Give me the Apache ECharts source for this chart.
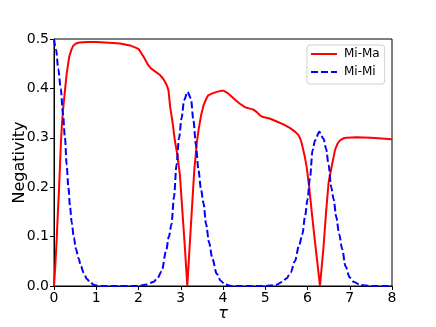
<!DOCTYPE html>
<html>
<head>
<meta charset="utf-8">
<script src="https://cdn.jsdelivr.net/npm/echarts@6/dist/echarts.min.js"></script>
<style>html,body{margin:0;padding:0;background:#fff}#c{width:436px;height:327px}</style>
</head>
<body>
<div id="c"></div>
<script>
var xTicks = [0,1,2,3,4,5,6,7,8];
var yTicks = [0.0,0.1,0.2,0.3,0.4,0.5];
var seriesNames = ['Mi-Ma','Mi-Mi'];

var tauMa = [0,0.03,0.063,0.09,0.118,0.14,0.166,0.19,0.22,0.26,0.3,0.36,0.41,0.46,0.52,0.6,0.8,1.0,1.2,1.4,1.56,1.8,2.0,2.06,2.12,2.18,2.23,2.3,2.4,2.51,2.58,2.63,2.68,2.71,2.75,2.81,2.86,2.92,2.98,3.04,3.1,3.155,3.2,3.26,3.32,3.38,3.42,3.48,3.54,3.6,3.65,3.75,3.85,3.95,4.02,4.1,4.17,4.3,4.4,4.52,4.64,4.72,4.8,4.88,4.95,5.1,5.19,5.3,5.43,5.58,5.71,5.78,5.82,5.86,5.9,5.94,5.98,6.04,6.1,6.17,6.23,6.295,6.38,6.44,6.5,6.57,6.65,6.71,6.77,6.85,6.93,7.16,7.5,8.0];
var negMa = [0,0.04,0.093,0.145,0.194,0.24,0.295,0.33,0.362,0.396,0.43,0.464,0.478,0.487,0.491,0.493,0.494,0.494,0.493,0.492,0.491,0.487,0.48,0.472,0.464,0.455,0.447,0.44,0.434,0.427,0.42,0.413,0.404,0.396,0.362,0.329,0.295,0.265,0.225,0.15,0.075,0.0,0.065,0.15,0.234,0.29,0.315,0.345,0.366,0.378,0.386,0.39,0.393,0.395,0.395,0.391,0.386,0.376,0.369,0.362,0.359,0.357,0.352,0.345,0.342,0.339,0.336,0.332,0.327,0.32,0.312,0.306,0.3,0.29,0.275,0.26,0.241,0.2,0.15,0.095,0.05,0.0,0.08,0.15,0.21,0.241,0.275,0.288,0.295,0.299,0.3,0.301,0.3,0.297];

var tauMi = [0,0.05,0.1,0.16,0.21,0.26,0.3,0.34,0.38,0.42,0.47,0.52,0.58,0.64,0.7,0.78,0.86,0.95,1.05,1.5,2.0,2.2,2.35,2.45,2.55,2.65,2.72,2.78,2.84,2.9,2.96,3.02,3.08,3.16,3.24,3.3,3.36,3.42,3.48,3.54,3.6,3.67,3.75,3.85,3.95,4.05,4.2,5.0,5.25,5.4,5.5,5.6,5.7,5.8,5.88,5.94,6.0,6.06,6.12,6.18,6.28,6.38,6.44,6.5,6.56,6.62,6.68,6.75,6.82,6.9,7.0,7.1,7.25,7.5,8.0];
var negMi = [0.5,0.478,0.44,0.4,0.35,0.3,0.245,0.2,0.16,0.128,0.098,0.075,0.056,0.04,0.027,0.014,0.007,0.002,0.0,0.0,0.0,0.003,0.008,0.016,0.03,0.07,0.1,0.125,0.18,0.245,0.3,0.34,0.376,0.393,0.38,0.335,0.285,0.234,0.195,0.167,0.125,0.088,0.055,0.025,0.01,0.003,0.0,0.0,0.002,0.008,0.015,0.027,0.05,0.082,0.105,0.14,0.175,0.22,0.275,0.295,0.312,0.298,0.278,0.245,0.2,0.175,0.14,0.105,0.075,0.04,0.017,0.008,0.002,0.0,0.0];

function zip(a, b) { return a.map(function (v, i) { return [v, b[i]]; }); }

var font = 'DejaVu Sans';
var chart = echarts.init(document.getElementById('c'), null, {renderer: 'canvas'});
chart.setOption({
  animation: false,
  backgroundColor: '#fff',
  grid: {left: 54, right: 44, top: 39, bottom: 41, containLabel: false, outerBoundsMode: 'none',
         show: true, borderColor: '#000', borderWidth: 1, backgroundColor: 'transparent'},
  legend: {
    orient: 'vertical', left: 307, top: 45,
    data: seriesNames,
    itemWidth: 26, itemHeight: 12, itemGap: 6,
    padding: [3, 5, 6, 3],
    itemStyle: {opacity: 0},
    backgroundColor: 'rgba(255,255,255,0.8)', borderColor: '#d0d0d0', borderWidth: 1, borderRadius: 3,
    textStyle: {fontFamily: font, fontSize: 12, color: '#000', padding: [0, 0, 0, 2]}
  },
  xAxis: {
    type: 'value', min: xTicks[0], max: xTicks[xTicks.length - 1], interval: 1,
    name: 'τ', nameLocation: 'middle', nameGap: 20, nameMoveOverlap: false,
    nameTextStyle: {fontFamily: font, fontSize: 16, fontStyle: 'italic', color: '#000'},
    axisLine: {lineStyle: {color: '#000', width: 1}},
    axisTick: {show: true, length: 4, lineStyle: {color: '#000'}},
    axisLabel: {fontFamily: font, fontSize: 14, color: '#000', margin: 5},
    splitLine: {show: false}
  },
  yAxis: {
    type: 'value', min: yTicks[0], max: yTicks[yTicks.length - 1], interval: 0.1,
    name: 'Negativity', nameLocation: 'middle', nameGap: 26, nameMoveOverlap: false,
    nameTextStyle: {fontFamily: font, fontSize: 16, color: '#000'},
    axisLine: {show: true, lineStyle: {color: '#000', width: 1}},
    axisTick: {show: true, length: 4, lineStyle: {color: '#000'}},
    axisLabel: {fontFamily: font, fontSize: 14, color: '#000', margin: 5, formatter: function (v) { return v.toFixed(1); }},
    splitLine: {show: false}
  },
  series: [
    {name: seriesNames[0], type: 'line', data: zip(tauMa, negMa), symbol: 'none', smooth: false,
     lineStyle: {color: '#ff0000', width: 2}, itemStyle: {color: '#ff0000'}},
    {name: seriesNames[1], type: 'line', data: zip(tauMi, negMi), symbol: 'none', smooth: 0.3, smoothMonotone: 'x',
     lineStyle: {color: '#0000ff', width: 2, type: [7, 3]}, itemStyle: {color: '#0000ff'}}
  ]
});
</script>
</body>
</html>
